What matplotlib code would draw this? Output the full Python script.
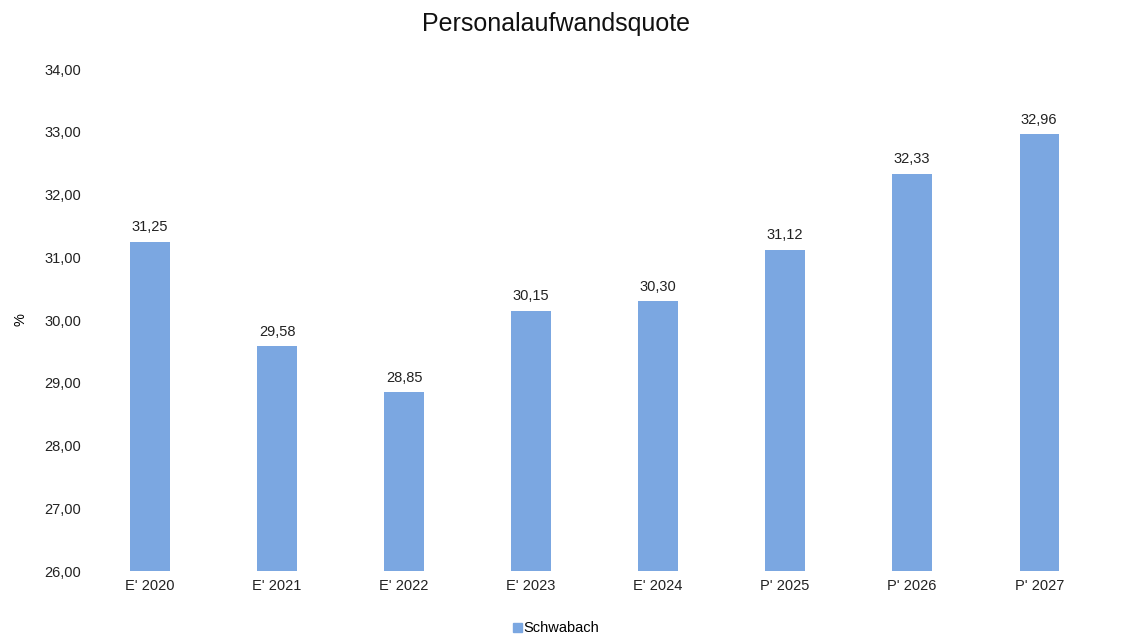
import matplotlib.pyplot as plt
from matplotlib.patches import Patch

plt.rcParams['font.family'] = ['Liberation Sans', 'DejaVu Sans']

# Data
categories = ["E' 2020", "E' 2021", "E' 2022", "E' 2023", "E' 2024", "P' 2025", "P' 2026", "P' 2027"]
values = [31.25, 29.58, 28.85, 30.15, 30.30, 31.12, 32.33, 32.96]
series_name = "Schwabach"
bar_color = "#7BA7E1"

fig = plt.figure(figsize=(11.31, 6.36), dpi=100)
ax = fig.add_axes([0.0765, 0.1022, 0.8985, 0.7893])

x = range(len(categories))
bars = ax.bar(x, values, width=0.31, color=bar_color, bottom=0)
ax.set_ylim(26, 34)
ax.set_xlim(-0.5, len(categories) - 0.5)

# value labels
for xi, v in zip(x, values):
    ax.text(xi, v + 0.12, f"{v:.2f}".replace(".", ","), ha='center', va='bottom',
            fontsize=10.5, color='#222222')

ax.set_xticks(list(x))
ax.set_xticklabels(categories, fontsize=10.5, color='#222222')
ax.set_yticks(range(26, 35))
ax.set_yticklabels([f"{t},00" for t in range(26, 35)], fontsize=10.5, color='#222222')
ax.tick_params(length=0)
ax.tick_params(axis='y', pad=4)
ax.tick_params(axis='x', pad=6)
for s in ax.spines.values():
    s.set_visible(False)

ax.set_ylabel('%', fontsize=10.5)
ax.yaxis.set_label_coords(-0.058, 0.5)

fig.text(0.492, 0.962, 'Personalaufwandsquote', ha='center', va='center', fontsize=18, color='#111111')

fig.legend(handles=[Patch(color=bar_color, label=series_name)], loc='center',
           bbox_to_anchor=(0.492, 0.012), frameon=False, fontsize=10.5,
           handlelength=0.6, handleheight=0.6, handletextpad=0.1)

fig.savefig('out.png', dpi=100)
